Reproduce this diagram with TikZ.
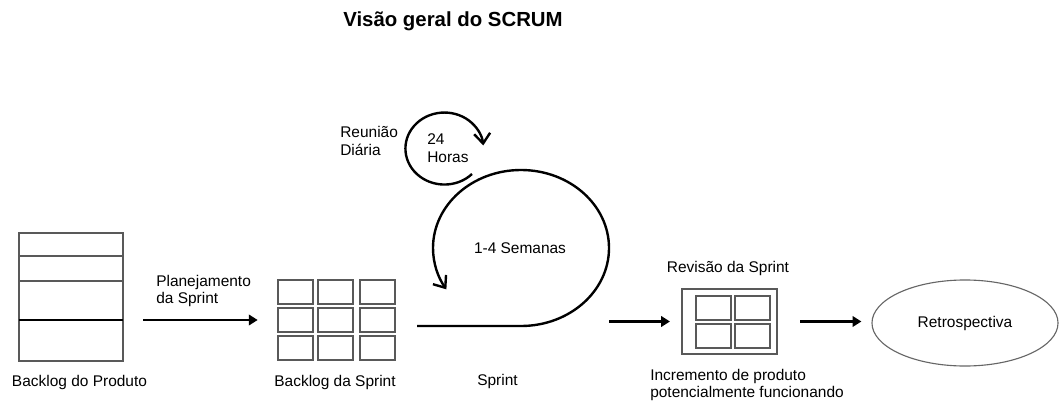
\documentclass[tikz,border=0pt]{standalone}
\usepackage{fontspec}
\setmainfont{Liberation Sans}
\usetikzlibrary{arrows.meta,shapes.geometric,fit}

\begin{document}
\begin{tikzpicture}[
    x=0.025cm, y=0.025cm,
    every node/.style={font=\fontsize{11}{12.5}\selectfont},
    blk/.style={rectangle, draw=black!65, line width=0.8pt, outer sep=0pt, inner sep=0pt},
    cell/.style={blk, minimum width=0.875cm, minimum height=0.6cm},
    flow/.style={line width=2pt, -{Triangle[length=0.22cm,width=0.26cm]}},
    loopline/.style={line width=1.7pt, -{Straight Barb[length=0.25cm,width=0.4cm]}},
    txt/.style={align=left, inner sep=0pt}
]
  \useasboundingbox (0,0) rectangle (1059,403);
  % title
  \node[font=\bfseries\fontsize{14.5}{17}\selectfont, anchor=base] (title) at (453,376) {Visão geral do SCRUM};

  % product backlog
  \node[blk, minimum width=2.6cm, minimum height=3.2cm] (pb) at (71,106) {};
  \draw[black!65, line width=0.8pt] (pb.north west) ++(0,-23) -- ++(104,0);
  \draw[black!65, line width=0.8pt] (pb.north west) ++(0,-48) -- ++(104,0);
  \draw[line width=1.2pt] (pb.north west) ++(0,-87) -- ++(104,0);
  \node[anchor=base] (pblabel) at (79.5,17) {Backlog do Produto};

  % sprint backlog
  \foreach \cx [count=\i] in {295.5,335.5,377.5}
    \foreach \cy [count=\j] in {111,83,55}
      \node[cell] (sb-\i-\j) at (\cx,\cy) {};
  \node[fit=(sb-1-1)(sb-3-3), inner sep=0pt] (sb) {};
  \node[anchor=base] (sblabel) at (335,17) {Backlog da Sprint};

  \draw[flow, shorten <=0.5cm, shorten >=0.5cm] (pb.east |- sb.west) -- (sb.west);
  \node[txt, anchor=west] (plan) at (156,112) {Planejamento\\da Sprint};

  % sprint loop
  \coordinate (sprstart) at (417,77);
  \draw[loopline] (sprstart) -- (521,77) arc[start angle=-90, end angle=212, x radius=88, y radius=78];
  \node[anchor=base] (weeks) at (520,150) {1-4 Semanas};
  \node[anchor=base] (sprlabel) at (497.5,18) {Sprint};

  % daily scrum
  \coordinate (daystart) at (472,229);
  \draw[loopline] (daystart) arc[start angle=-45, end angle=-355, x radius=39, y radius=36];
  \node[txt, anchor=west] (daily) at (340,262) {Reunião\\Diária};
  \node[txt, anchor=west] (hours) at (427,255) {24\\Horas};

  % review
  \coordinate (sprend) at (609,81.5);
  \node[blk, minimum width=2.375cm, minimum height=1.625cm] (inc) at (729.5,81.5) {};
  \foreach \cx [count=\i] in {713.5,752.5}
    \foreach \cy [count=\j] in {95,67}
      \node[cell] (inc-\i-\j) at (\cx,\cy) {};
  \draw[flow, shorten >=0.3cm] (sprend) -- (inc.west);
  \node[anchor=base] (review) at (728,131) {Revisão da Sprint};
  \node[txt, anchor=west] (inclabel) at (650,18) {Incremento de produto\\potencialmente funcionando};

  % retrospective
  \node[ellipse, draw=black!60, line width=0.8pt, minimum width=4.65cm, minimum height=2.15cm, inner sep=0pt] (retro) at (965,80) {Retrospectiva};
  \draw[flow, shorten <=0.575cm, shorten >=0.25cm] (inc.east) -- (inc.east -| retro.west);
\end{tikzpicture}
\end{document}
